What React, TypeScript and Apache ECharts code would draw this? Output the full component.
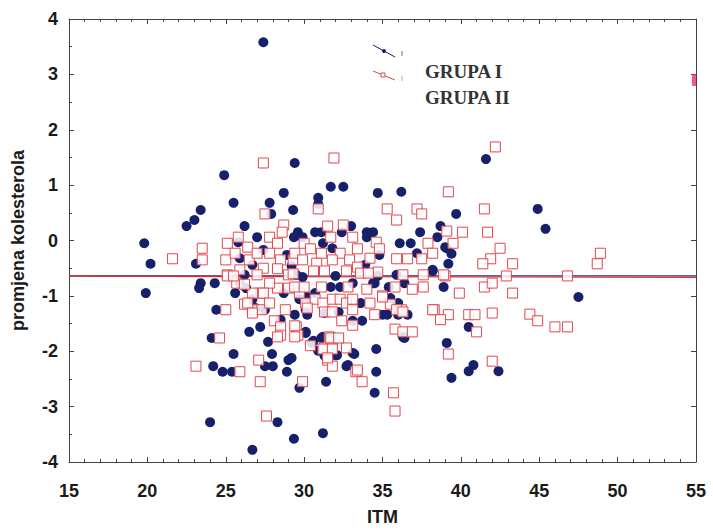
import React, { useEffect, useRef } from "react";
import * as echarts from "echarts";

// ITM (x) and promjena kolesterola (y) for GRUPA I (filled circles)
const grupaI: [number, number][] = [
  [27.4, 3.58], [29.4, 1.40], [24.9, 1.18], [31.7, 0.97], [32.5, 0.97], [28.7, 0.86], [34.7, 0.86],
  [30.9, 0.77], [30.9, 0.66], [25.5, 0.68], [27.8, 0.68], [29.3, 0.55], [23.4, 0.55], [23.0, 0.37],
  [22.5, 0.26], [26.2, 0.26], [33.0, 0.26], [27.9, 0.48], [41.6, 1.47], [36.2, 0.88], [44.9, 0.57],
  [39.7, 0.48], [45.4, 0.21], [37.4, 0.15], [38.7, 0.26], [34.4, 0.15], [38.5, 0.06], [36.1, -0.05],
  [36.8, -0.05], [39.1, -0.14], [39.4, -0.24], [39.2, -0.42], [38.2, -0.55], [38.9, -0.84], [47.5, -1.02],
  [34.5, -0.77], [35.4, -0.84], [35.5, -1.04], [35.9, -1.15], [35.0, -1.34], [36.0, -1.34], [36.6, -1.34],
  [40.5, -1.56], [36.3, -1.74], [39.1, -1.85], [34.6, -1.96], [40.8, -2.25], [40.5, -2.36], [42.4, -2.36],
  [39.4, -2.48], [34.6, -2.37], [34.5, -2.75], [19.8, -0.05], [20.2, -0.42], [19.9, -0.95], [23.1, -0.42],
  [23.4, -0.77], [24.3, -0.77], [23.3, -0.86], [24.4, -1.25], [24.1, -1.76], [25.5, -2.05], [24.2, -2.27],
  [24.8, -2.37], [25.4, -2.37], [24.0, -3.28], [26.7, -3.78], [29.35, -3.58], [28.3, -3.28], [31.2, -3.48],
  [29.7, -2.66], [31.4, -2.55], [28.9, -2.37], [27.5, -2.27], [28.0, -2.27], [27.95, -2.05], [29.0, -2.16],
  [26.5, -1.65], [27.2, -1.56], [27.7, -1.83], [29.4, -1.34], [30.2, -1.34], [30.1, -1.67], [30.6, -1.81],
  [31.2, -1.74], [30.9, -1.99], [31.5, -2.10], [32.1, -2.07], [33.2, -2.05], [32.7, -2.27], [26.7, -1.06],
  [25.6, -0.95], [28.7, -0.95], [30.1, -1.25], [29.7, -1.06], [26.3, -0.86], [25.8, -0.03], [29.35, 0.06],
  [29.6, 0.15], [25.9, -0.32], [27.4, -0.17], [28.9, -0.26], [26.7, -0.44], [29.2, -0.46], [26.2, -0.62],
  [30.7, 0.15], [31.1, 0.15], [32.4, 0.15], [34.0, 0.15], [34.0, 0.06], [39.0, -0.12], [31.2, -0.05],
  [31.8, -0.14], [34.8, -0.26], [37.2, -0.23], [33.9, -0.44], [34.7, -0.64], [38.2, -0.53], [32.0, -0.64],
  [29.9, -0.66], [29.5, -0.62], [35.9, -0.62], [31.7, -0.84], [32.3, -0.84], [33.1, -0.77], [34.4, -0.77],
  [36.4, -0.77], [30.7, -0.95], [30.2, -1.02], [33.6, -1.13], [36.0, -1.13], [31.3, -1.31], [32.2, -1.29],
  [35.3, -1.34], [33.1, -1.45], [33.7, -1.45], [30.1, -1.65], [36.4, -1.76], [31.1, -1.76], [31.7, -1.76],
  [30.5, -1.85], [29.2, -2.12], [31.3, -2.08], [32.0, -2.07], [33.1, -2.03], [32.8, -2.25], [25.9, -0.77],
  [26.9, -1.22], [27.5, -1.25], [28.5, -1.43], [27.0, 0.06], [29.9, 0.06],
];

// GRUPA II (open squares)
const grupaII: [number, number][] = [
  [27.4, 1.40], [31.9, 1.49], [42.2, 1.69], [27.5, 0.48], [30.9, 0.57], [28.7, 0.28], [31.5, 0.26],
  [32.5, 0.28], [35.3, 0.57], [39.2, 0.88], [37.2, 0.57], [37.5, 0.48], [41.5, 0.57], [35.9, 0.37],
  [40.1, 0.15], [41.7, 0.15], [39.1, 0.17], [37.9, -0.05], [39.5, -0.05], [42.5, -0.14], [48.9, -0.23],
  [48.7, -0.42], [41.9, -0.33], [41.4, -0.42], [43.3, -0.42], [39.0, -0.64], [42.9, -0.64], [46.8, -0.64],
  [41.5, -0.84], [39.9, -0.95], [43.3, -0.95], [42.0, -0.77], [35.8, -0.84], [36.9, -0.88], [37.6, -0.84],
  [35.0, -1.00], [35.5, -1.15], [38.3, -1.25], [39.2, -1.34], [38.7, -1.43], [34.5, -1.34], [36.2, -1.25],
  [40.5, -1.34], [40.9, -1.34], [42.0, -1.31], [44.4, -1.33], [44.9, -1.45], [46.0, -1.56], [46.8, -1.56],
  [41.0, -1.65], [35.8, -1.60], [36.3, -1.65], [36.9, -1.65], [39.2, -2.05], [42.0, -2.18], [35.7, -2.75],
  [35.8, -3.08], [21.6, -0.33], [23.5, -0.14], [23.5, -0.35], [25.0, -1.25], [24.6, -1.76], [23.1, -2.27],
  [25.9, -2.37], [27.6, -3.17], [29.9, -2.55], [27.2, -2.55], [27.1, -2.16], [28.1, -1.45], [28.5, -1.56],
  [28.5, -1.71], [29.5, -1.56], [29.6, -1.71], [30.4, -1.90], [31.6, -1.74], [31.3, -1.94], [31.8, -1.94],
  [31.5, -2.16], [31.8, -2.27], [32.7, -1.94], [33.3, -2.37], [33.7, -2.55], [26.7, -1.25], [27.3, -1.25],
  [26.2, -1.15], [28.8, -1.25], [30.1, -1.13], [29.7, -0.95], [29.0, -0.86], [28.3, -0.86], [27.8, -0.77],
  [27.2, -0.95], [26.7, -0.95], [25.7, -0.77], [28.6, 0.15], [25.1, -0.05], [25.8, 0.06], [26.4, -0.12],
  [27.8, 0.06], [28.3, -0.05], [25.0, -0.35], [25.6, -0.23], [26.5, -0.35], [27.0, -0.23], [27.8, -0.23],
  [28.5, -0.35], [29.3, -0.35], [27.4, -0.50], [25.9, -0.53], [28.3, -0.51], [25.1, -0.62], [27.0, -0.62],
  [29.0, -0.62], [31.7, 0.06], [33.1, 0.06], [34.6, -0.03], [30.0, -0.05], [30.4, -0.15], [32.3, -0.23],
  [33.4, -0.15], [34.8, -0.15], [31.1, -0.23], [37.5, -0.33], [38.2, -0.23], [29.4, -0.23], [29.9, -0.35],
  [30.8, -0.41], [31.8, -0.35], [32.9, -0.35], [34.2, -0.32], [35.9, -0.33], [36.6, -0.33], [33.4, -0.48],
  [30.6, -0.55], [31.3, -0.55], [32.7, -0.55], [34.7, -0.57], [36.3, -0.62], [38.9, -0.62], [29.3, -0.60],
  [33.6, -0.59], [34.1, -0.59], [37.6, -0.62], [29.4, -0.84], [30.0, -0.84], [31.1, -0.84], [32.8, -0.84],
  [34.0, -0.88], [30.7, -1.06], [31.2, -1.13], [31.8, -1.06], [32.3, -1.06], [32.7, -1.13], [33.1, -1.06],
  [34.2, -1.13], [35.0, -1.02], [30.2, -1.22], [31.3, -1.29], [31.8, -1.29], [33.1, -1.25], [35.9, -1.25],
  [36.3, -1.29], [38.2, -1.25], [32.4, -1.45], [33.1, -1.53], [29.4, -1.54], [29.4, -1.74], [31.7, -1.76],
  [32.2, -1.76], [31.2, -1.96], [31.8, -1.96], [31.5, -2.12], [33.4, -2.34], [25.1, -0.64], [25.5, -0.64],
  [26.2, -0.79], [26.4, -1.13], [27.4, -0.95], [26.7, -1.31], [27.8, -1.13], [28.3, -1.74],
];

// marker at the right frame
const edgePoint: [number, number][] = [[55, 2.9]];

// mean lines
const meanI: [number, number][] = [[15, -0.64], [55, -0.64]];
const meanII: [number, number][] = [[15, -0.645], [55, -0.665]];

const xTicks = [15, 20, 25, 30, 35, 40, 45, 50, 55];
const yTicks = [-4, -3, -2, -1, 0, 1, 2, 3, 4];
const legendNames = ["GRUPA I", "GRUPA II"];

const NAVY = "#17206b";
const RED = "#e0474f";
const AXIS = "#444";
const FONT = "'Liberation Sans', Arial, sans-serif";

export default function App() {
  const ref = useRef<HTMLDivElement>(null);
  useEffect(() => {
    document.body.style.margin = "0";
    if (!ref.current) return;
    const chart = echarts.init(ref.current, undefined, { renderer: "svg" });
    const tickLabel = { fontFamily: FONT, fontWeight: "bold" as const, fontSize: 18, color: "#1a1a1a" };
    const baseAxis = {
      axisLine: { show: true, onZero: false, lineStyle: { color: AXIS, width: 1 } },
      axisTick: { show: true, inside: true, length: 5, lineStyle: { color: AXIS } },
      minorTick: { show: true, length: 3, lineStyle: { color: AXIS } },
      splitLine: { show: false },
    };
    chart.setOption({
      animation: false,
      backgroundColor: "#ffffff",
      grid: { left: 69, right: 17, top: 19, bottom: 69, containLabel: false },
      xAxis: [
        {
          ...baseAxis,
          type: "value",
          min: xTicks[0],
          max: xTicks[xTicks.length - 1],
          interval: 5,
          minorTick: { ...baseAxis.minorTick, splitNumber: 5 },
          axisLabel: { ...tickLabel, margin: 20 },
          name: "ITM",
          nameLocation: "middle",
          nameGap: 46,
          nameTextStyle: { fontFamily: FONT, fontWeight: "bold", fontSize: 18, color: "#1a1a1a" },
        },
        {
          ...baseAxis,
          type: "value",
          position: "top",
          min: xTicks[0],
          max: xTicks[xTicks.length - 1],
          interval: 5,
          minorTick: { ...baseAxis.minorTick, splitNumber: 5 },
          axisLabel: { show: false },
        },
      ],
      yAxis: [
        {
          ...baseAxis,
          type: "value",
          min: yTicks[0],
          max: yTicks[yTicks.length - 1],
          interval: 1,
          minorTick: { ...baseAxis.minorTick, splitNumber: 2 },
          axisLabel: { ...tickLabel, margin: 11 },
          name: "promjena kolesterola",
          nameLocation: "middle",
          nameGap: 42,
          nameTextStyle: { fontFamily: FONT, fontWeight: "bold", fontSize: 18, color: "#1a1a1a" },
        },
        {
          ...baseAxis,
          type: "value",
          position: "right",
          min: yTicks[0],
          max: yTicks[yTicks.length - 1],
          interval: 1,
          minorTick: { show: false },
          axisLabel: { show: false },
        },
      ],
      series: [
        {
          name: legendNames[0] + " mean",
          type: "line",
          data: meanI,
          symbol: "none",
          lineStyle: { color: "#2a2f6a", width: 1.2 },
          z: 1,
        },
        {
          name: legendNames[1] + " mean",
          type: "line",
          data: meanII,
          symbol: "none",
          lineStyle: { color: "#e02a2a", width: 1.2 },
          z: 2,
        },
        {
          name: legendNames[0],
          type: "scatter",
          data: grupaI,
          symbol: "circle",
          symbolSize: 10,
          itemStyle: { color: NAVY, opacity: 1 },
          z: 3,
        },
        {
          name: legendNames[1],
          type: "scatter",
          data: grupaII,
          symbol: "rect",
          symbolSize: 10,
          itemStyle: { color: "rgba(255,255,255,0.85)", borderColor: RED, borderWidth: 1, opacity: 1 },
          z: 4,
        },
        {
          name: "edge",
          type: "scatter",
          data: edgePoint,
          symbol: "rect",
          symbolSize: [4, 12],
          symbolOffset: [-2, 0],
          itemStyle: { color: "#f0306a" },
          z: 5,
        },
      ],
      graphic: [
        { type: "line", shape: { x1: 373, y1: 45, x2: 395, y2: 57 }, style: { stroke: NAVY, lineWidth: 1 } },
        { type: "circle", shape: { cx: 384, cy: 51, r: 2 }, style: { fill: NAVY } },
        { type: "line", shape: { x1: 402, y1: 51, x2: 402, y2: 56 }, style: { stroke: "#777", lineWidth: 1 } },
        { type: "line", shape: { x1: 373, y1: 71, x2: 395, y2: 80 }, style: { stroke: RED, lineWidth: 1 } },
        { type: "rect", shape: { x: 381, y: 73, width: 4, height: 4 }, style: { fill: "#fff", stroke: RED, lineWidth: 1 } },
        { type: "line", shape: { x1: 402, y1: 76, x2: 402, y2: 81 }, style: { stroke: "#d99", lineWidth: 1 } },
        {
          type: "text",
          x: 425,
          y: 71,
          style: {
            text: legendNames[0],
            font: "bold 19px 'Liberation Serif', 'Times New Roman', serif",
            fill: "#333",
            verticalAlign: "middle",
          },
        },
        {
          type: "text",
          x: 425,
          y: 97,
          style: {
            text: legendNames[1],
            font: "bold 19px 'Liberation Serif', 'Times New Roman', serif",
            fill: "#333",
            verticalAlign: "middle",
          },
        },
      ],
    });
    return () => chart.dispose();
  }, []);
  return <div ref={ref} style={{ width: 713, height: 531 }} />;
}
